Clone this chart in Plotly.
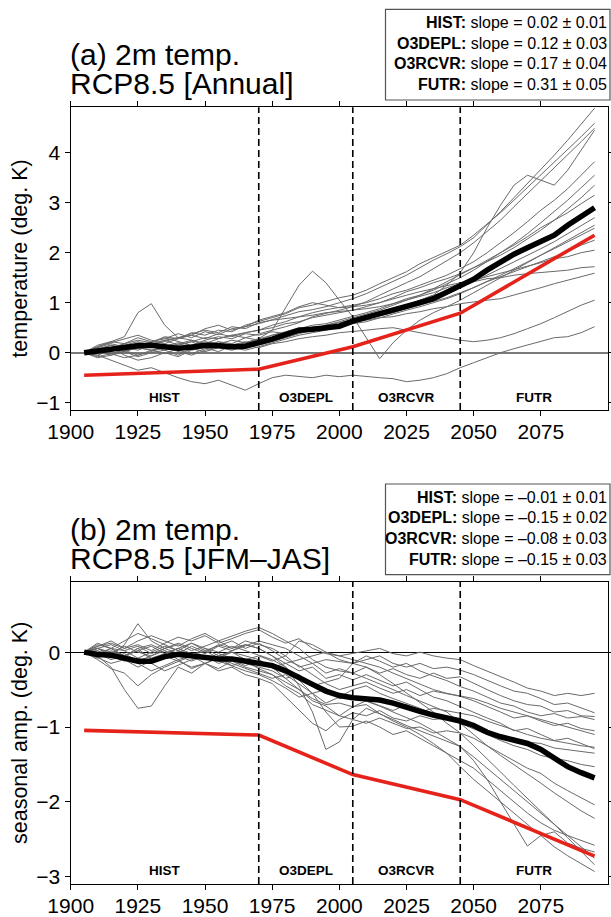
import plotly.graph_objects as go

# ---------------- data ----------------
YEARS = [1905, 1910, 1915, 1920, 1925, 1930, 1935, 1940, 1945, 1950, 1955, 1960, 1965,
         1970, 1975, 1980, 1985, 1990, 1995, 2000, 2005, 2010, 2015, 2020, 2025, 2030,
         2035, 2040, 2045, 2050, 2055, 2060, 2065, 2070, 2075, 2080, 2085, 2090, 2095]

ANNUAL_MEAN = [0.00, 0.04, 0.06, 0.10, 0.14, 0.15, 0.12, 0.09, 0.11, 0.15, 0.14, 0.12, 0.13,
               0.19, 0.27, 0.36, 0.45, 0.47, 0.49, 0.53, 0.63, 0.70, 0.78, 0.86, 0.93, 1.00,
               1.08, 1.20, 1.33, 1.47, 1.65, 1.82, 1.97, 2.10, 2.22, 2.35, 2.55, 2.72, 2.90]

SEASONAL_MEAN = [0.00, -0.03, -0.04, -0.08, -0.12, -0.12, -0.06, -0.03, -0.05, -0.08, -0.09, -0.09, -0.12,
                 -0.15, -0.18, -0.25, -0.33, -0.43, -0.52, -0.58, -0.61, -0.62, -0.64, -0.68, -0.74, -0.79,
                 -0.84, -0.88, -0.92, -0.98, -1.07, -1.13, -1.18, -1.22, -1.30, -1.41, -1.53, -1.61, -1.68]

TREND_YEARS = [1905, 1970, 2005, 2045, 2095]
ANNUAL_TREND = [-0.45, -0.33, 0.12, 0.79, 2.35]
SEASONAL_TREND = [-1.045, -1.107, -1.636, -1.97, -2.725]

ANNUAL_MEMBERS = [
    [0.00, 0.12, 0.22, 0.18, 0.30, 0.22, 0.28, 0.38, 0.30, 0.42, 0.36, 0.48, 0.52, 0.58,
     0.66, 0.74, 0.82, 0.86, 0.92, 1.00, 1.08, 1.18, 1.30, 1.42, 1.55, 1.70, 1.85, 1.98, 2.12,
     2.30, 2.55, 2.82, 3.10, 3.38, 3.66, 3.95, 4.25, 4.58, 4.89],
    [0.00, 0.05, 0.15, 0.10, 0.20, 0.12, 0.05, 0.15, 0.22, 0.10, 0.18, 0.25, 0.20, 0.28,
     0.35, 0.42, 0.50, 0.46, 0.55, 0.60, 0.66, 0.72, 0.80, 0.88, 0.95, 1.05, 1.15, 1.35, 1.60,
     2.00, 2.50, 2.95, 3.35, 3.55, 3.45, 3.35, 3.65, 4.05, 4.45],
    [0.00, 0.08, 0.05, 0.18, 0.25, 0.20, 0.32, 0.28, 0.40, 0.35, 0.45, 0.42, 0.55, 0.62,
     0.70, 0.78, 0.90, 0.95, 1.02, 1.10, 1.15, 1.25, 1.38, 1.50, 1.62, 1.78, 1.90, 2.02, 2.15,
     2.35, 2.58, 2.80, 3.05, 3.30, 3.55, 3.80, 4.05, 4.32, 4.59],
    [0.00, -0.05, 0.05, 0.12, 0.08, 0.18, 0.25, 0.15, 0.22, 0.30, 0.28, 0.35, 0.30, 0.38,
     0.45, 0.52, 0.60, 0.72, 0.78, 0.85, 0.92, 1.02, 1.15, 1.28, 1.40, 1.52, 1.68, 1.85, 2.00,
     2.20, 2.42, 2.65, 2.92, 3.18, 3.42, 3.70, 3.95, 4.22, 4.49],
    [0.00, 0.10, 0.18, 0.12, 0.05, 0.15, 0.22, 0.30, 0.25, 0.18, 0.28, 0.35, 0.40, 0.45,
     0.55, 0.62, 0.72, 0.80, 0.86, 0.90, 0.95, 1.00, 1.08, 1.18, 1.25, 1.35, 1.45, 1.55, 1.68,
     1.82, 2.00, 2.20, 2.40, 2.62, 2.85, 3.05, 3.28, 3.55, 3.82],
    [0.00, 0.05, -0.05, 0.02, 0.10, 0.05, 0.12, 0.20, 0.15, 0.10, 0.22, 0.18, 0.30, 0.25,
     0.35, 0.40, 0.48, 0.55, 0.58, 0.65, 0.72, 0.80, 0.88, 0.98, 1.08, 1.15, 1.25, 1.38, 1.50,
     1.65, 1.82, 2.00, 2.18, 2.38, 2.60, 2.82, 3.05, 3.30, 3.55],
    [0.00, 0.15, 0.22, 0.32, 0.80, 0.98, 0.55, 0.30, 0.35, 0.28, 0.38, 0.32, 0.40, 0.45,
     0.50, 0.58, 0.62, 0.70, 0.75, 0.80, 0.85, 0.92, 1.00, 1.10, 1.22, 1.30, 1.40, 1.48, 1.58,
     1.70, 1.85, 2.00, 2.15, 2.32, 2.50, 2.65, 2.80, 2.98, 3.15],
    [0.00, 0.08, 0.15, 0.05, 0.12, 0.20, 0.10, 0.18, 0.25, 0.15, 0.22, 0.12, 0.20, 0.28,
     0.45, 0.90, 1.35, 1.63, 1.40, 1.05, 0.72, 0.30, -0.12, 0.20, 0.45, 0.65, 0.80, 0.92, 1.05,
     1.20, 1.35, 1.50, 1.65, 1.80, 1.95, 2.10, 2.25, 2.40, 2.55],
    [0.00, -0.08, -0.02, 0.05, -0.05, 0.02, 0.10, 0.05, -0.02, 0.08, 0.15, 0.10, 0.05, 0.12,
     0.20, 0.28, 0.35, 0.40, 0.45, 0.52, 0.58, 0.62, 0.70, 0.78, 0.85, 0.92, 1.00, 1.08, 1.18,
     1.30, 1.42, 1.55, 1.68, 1.82, 1.95, 2.08, 2.22, 2.35, 2.49],
    [0.00, 0.05, 0.10, -0.05, -0.15, -0.10, 0.00, -0.08, 0.05, 0.10, 0.02, 0.15, 0.22, 0.15,
     0.22, 0.30, 0.38, 0.45, 0.50, 0.55, 0.62, 0.68, 0.75, 0.80, 0.88, 0.95, 1.02, 1.10, 1.20,
     1.30, 1.42, 1.52, 1.62, 1.72, 1.82, 1.92, 2.02, 2.15, 2.25],
    [0.00, 0.10, 0.05, 0.15, 0.22, 0.15, 0.25, 0.30, 0.38, 0.45, 0.40, 0.52, 0.48, 0.60,
     0.65, 0.68, 0.72, 0.75, 0.80, 0.82, 0.85, 0.88, 0.92, 0.98, 1.05, 1.12, 1.20, 1.30, 1.38,
     1.42, 1.48, 1.50, 1.55, 1.58, 1.60, 1.62, 1.65, 1.70, 1.72],
    [0.00, -0.10, -0.05, 0.02, 0.10, 0.05, -0.02, 0.08, 0.15, 0.22, 0.18, 0.10, 0.20, 0.25,
     0.30, 0.35, 0.42, 0.48, 0.52, 0.56, 0.60, 0.65, 0.70, 0.72, 0.78, 0.82, 0.88, 0.92, 0.98,
     1.02, 1.05, 1.08, 1.15, 1.22, 1.30, 1.38, 1.45, 1.52, 1.59],
    [0.00, 0.05, -0.02, -0.10, -0.05, 0.05, 0.10, 0.02, -0.05, 0.05, 0.12, 0.08, 0.15, 0.10,
     0.18, 0.22, 0.28, 0.32, 0.35, 0.40, 0.42, 0.45, 0.48, 0.50, 0.45, 0.40, 0.35, 0.30, 0.25,
     0.22, 0.25, 0.30, 0.38, 0.48, 0.58, 0.70, 0.82, 0.95, 1.05],
    [0.00, -0.05, -0.15, -0.25, -0.35, -0.30, -0.40, -0.50, -0.58, -0.62, -0.55, -0.65, -0.75, -0.62,
     -0.50, -0.45, -0.48, -0.50, -0.45, -0.48, -0.45, -0.48, -0.50, -0.52, -0.58, -0.55, -0.50, -0.42, -0.30,
     -0.20, -0.10, 0.00, 0.08, 0.15, 0.22, 0.30, 0.32, 0.40, 0.52],
    [0.00, 0.12, 0.20, 0.28, 0.35, 0.25, 0.18, 0.28, 0.35, 0.48, 0.55, 0.45, 0.52, 0.65,
     0.72, 0.80, 0.92, 1.00, 0.95, 0.90, 0.92, 0.95, 1.00, 1.08, 1.15, 1.22, 1.28, 1.35, 1.40,
     1.45, 1.52, 1.58, 1.65, 1.72, 1.80, 1.88, 1.92, 2.00, 2.05],
    [0.00, 0.02, 0.10, 0.18, 0.12, 0.22, 0.30, 0.22, 0.15, 0.25, 0.32, 0.28, 0.38, 0.35,
     0.42, 0.38, 0.45, 0.52, 0.48, 0.55, 0.60, 0.68, 0.75, 0.85, 0.95, 1.05, 1.15, 1.22, 1.30,
     1.42, 1.55, 1.68, 1.82, 1.95, 2.08, 2.22, 2.38, 2.55, 2.70],
    [0.00, -0.02, 0.08, 0.02, -0.08, 0.00, 0.05, -0.05, 0.08, 0.02, 0.10, 0.05, 0.12, 0.20,
     0.25, 0.32, 0.40, 0.45, 0.55, 0.62, 0.70, 0.78, 0.85, 0.95, 1.05, 1.15, 1.28, 1.42, 1.55,
     1.70, 1.82, 1.95, 2.10, 2.28, 2.45, 2.65, 2.88, 3.10, 3.35],
]

SEASONAL_MEMBERS = [
    [0.00, 0.08, 0.15, 0.05, 0.10, 0.02, 0.12, 0.20, 0.15, 0.22, 0.12, 0.18, 0.25, 0.30,
     0.20, 0.12, 0.18, 0.05, -0.02, -0.05, -0.02, 0.02, 0.05, -0.02, -0.05, 0.00, -0.05, -0.08, -0.10,
     -0.18, -0.25, -0.32, -0.40, -0.48, -0.52, -0.58, -0.55, -0.58, -0.55],
    [0.00, 0.05, -0.05, 0.10, 0.38, 0.15, 0.05, -0.02, 0.08, 0.00, 0.10, 0.05, 0.15, 0.10,
     0.05, -0.05, 0.15, 0.10, 0.00, -0.10, -0.15, -0.10, -0.05, -0.15, -0.20, -0.15, -0.22, -0.20, -0.24,
     -0.30, -0.38, -0.45, -0.52, -0.55, -0.62, -0.70, -0.68, -0.75, -0.81],
    [0.00, -0.08, 0.02, -0.05, 0.05, -0.10, -0.02, 0.05, -0.05, 0.02, -0.08, 0.00, -0.10, -0.05,
     -0.12, -0.05, -0.20, -0.15, -0.28, -0.22, -0.28, -0.20, -0.28, -0.22, -0.30, -0.35, -0.28, -0.35, -0.33,
     -0.42, -0.50, -0.58, -0.65, -0.70, -0.72, -0.80, -0.78, -0.85, -0.86],
    [0.00, -0.10, -0.22, -0.28, -0.45, -0.30, -0.20, -0.12, -0.05, -0.10, -0.02, -0.08, -0.15, -0.20,
     -0.25, -0.35, -0.30, -0.45, -0.40, -0.35, -0.15, -0.05, -0.12, -0.20, -0.15, -0.25, -0.32, -0.38, -0.46,
     -0.52, -0.60, -0.68, -0.72, -0.80, -0.85, -0.82, -0.88, -0.86, -0.90],
    [0.00, 0.10, 0.05, -0.05, 0.02, 0.08, -0.02, 0.05, 0.12, 0.02, 0.08, 0.15, 0.05, 0.12,
     0.02, -0.10, -0.18, -0.30, -0.42, -0.50, -0.45, -0.40, -0.48, -0.55, -0.50, -0.58, -0.52, -0.55, -0.59,
     -0.65, -0.72, -0.80, -0.88, -0.85, -0.92, -0.98, -0.95, -1.02, -1.05],
    [0.00, -0.05, -0.20, -0.50, -0.75, -0.72, -0.45, -0.20, -0.28, -0.15, -0.22, -0.12, -0.20, -0.25,
     -0.30, -0.40, -0.50, -0.62, -0.70, -0.68, -0.73, -0.65, -0.72, -0.78, -0.70, -0.80, -0.75, -0.78, -0.81,
     -0.85, -0.92, -0.98, -1.05, -1.10, -1.15, -1.18, -1.22, -1.25, -1.27],
    [0.00, 0.05, -0.02, 0.08, 0.00, -0.05, 0.05, 0.12, 0.05, -0.02, 0.08, 0.02, 0.10, 0.05,
     -0.05, -0.15, -0.25, -0.20, -0.35, -0.30, -0.37, -0.30, -0.38, -0.45, -0.40, -0.50, -0.60, -0.65, -0.73,
     -0.80, -0.88, -0.95, -1.05, -1.02, -1.10, -1.18, -1.15, -1.22, -1.29],
    [0.00, -0.02, -0.10, -0.05, -0.15, -0.25, -0.18, -0.10, -0.22, -0.15, -0.25, -0.20, -0.30, -0.35,
     -0.42, -0.60, -0.78, -0.95, -1.05, -0.90, -0.81, -0.85, -0.78, -0.88, -0.92, -0.85, -0.90, -0.88, -0.95,
     -1.02, -1.10, -1.18, -1.25, -1.30, -1.38, -1.42, -1.45, -1.50, -1.53],
    [0.00, 0.02, -0.08, -0.02, -0.12, -0.05, 0.02, -0.10, -0.05, -0.15, -0.08, -0.18, -0.12, -0.22,
     -0.30, -0.45, -0.55, -0.70, -0.78, -0.85, -0.90, -0.95, -0.88, -0.95, -1.02, -1.00, -1.08, -1.05, -1.08,
     -1.15, -1.25, -1.35, -1.45, -1.55, -1.62, -1.75, -1.85, -1.95, -2.04],
    [0.00, 0.08, 0.12, 0.05, 0.15, 0.22, 0.15, 0.08, 0.18, 0.25, 0.15, 0.22, 0.28, 0.33,
     0.25, 0.15, 0.05, -0.10, -0.20, -0.25, -0.28, -0.35, -0.42, -0.50, -0.58, -0.65, -0.72, -0.80, -0.95,
     -1.10, -1.25, -1.38, -1.50, -1.62, -1.75, -1.88, -2.00, -2.12, -2.22],
    [0.00, -0.05, 0.05, 0.02, -0.08, 0.00, 0.08, 0.02, -0.05, 0.05, 0.00, 0.08, 0.02, -0.05,
     -0.10, -0.20, -0.38, -0.55, -0.80, -1.00, -0.99, -0.92, -1.00, -1.10, -1.05, -1.15, -1.25, -1.35, -1.44,
     -1.55, -1.70, -1.85, -2.00, -2.15, -2.28, -2.38, -2.45, -2.52, -2.58],
    [0.00, 0.05, 0.10, 0.02, 0.08, -0.02, 0.05, 0.10, 0.02, 0.08, 0.15, 0.05, 0.10, 0.05,
     -0.05, -0.20, -0.45, -0.80, -1.30, -1.20, -0.90, -0.75, -0.82, -0.90, -0.98, -1.05, -1.12, -1.20, -1.26,
     -1.45, -1.70, -2.00, -2.30, -2.59, -2.45, -2.40, -2.55, -2.62, -2.67],
    [0.00, -0.08, -0.15, -0.10, -0.20, -0.12, -0.05, -0.12, -0.20, -0.15, -0.08, -0.15, -0.22, -0.28,
     -0.35, -0.30, -0.42, -0.55, -0.50, -0.62, -0.59, -0.65, -0.72, -0.80, -0.88, -0.95, -1.05, -1.15, -1.26,
     -1.40, -1.55, -1.70, -1.85, -2.00, -2.15, -2.30, -2.45, -2.60, -2.75],
    [0.00, 0.12, 0.05, 0.15, 0.25, 0.18, 0.10, 0.02, 0.12, 0.05, -0.05, 0.02, 0.08, 0.15,
     0.10, 0.05, -0.05, -0.15, -0.10, -0.12, -0.15, -0.20, -0.30, -0.42, -0.55, -0.68, -0.80, -0.95, -1.08,
     -1.25, -1.42, -1.60, -1.78, -1.95, -2.12, -2.30, -2.48, -2.66, -2.84],
    [0.00, -0.02, 0.05, -0.05, 0.02, -0.08, -0.02, 0.05, -0.02, -0.10, -0.05, 0.00, -0.05, -0.10,
     -0.20, -0.35, -0.50, -0.65, -0.72, -0.85, -0.73, -0.70, -0.82, -0.92, -1.00, -1.10, -1.22, -1.35, -1.53,
     -1.70, -1.85, -2.00, -2.15, -2.30, -2.45, -2.60, -2.72, -2.82, -2.93],
    [0.00, 0.02, -0.05, -0.12, -0.08, -0.15, -0.25, -0.18, -0.10, -0.05, -0.12, -0.18, -0.25, -0.30,
     -0.38, -0.48, -0.60, -0.55, -0.68, -0.60, -0.50, -0.45, -0.55, -0.62, -0.68, -0.75, -0.82, -0.90, -0.95,
     -1.00, -1.05, -1.12, -1.15, -1.20, -1.22, -1.28, -1.30, -1.32, -1.35],
    [0.00, 0.05, 0.00, -0.05, 0.05, 0.10, 0.02, -0.05, -0.12, -0.05, -0.15, -0.10, -0.18, -0.12,
     -0.20, -0.15, -0.10, -0.05, 0.00, -0.05, -0.10, -0.15, -0.20, -0.28, -0.35, -0.42, -0.50, -0.55, -0.59,
     -0.62, -0.68, -0.75, -0.80, -0.85, -0.90, -0.95, -1.00, -1.05, -1.10],
]

PERIOD_BOUNDS = [1970, 2005, 2045]
PERIOD_NAMES = ["HIST", "O3DEPL", "O3RCVR", "FUTR"]
PERIOD_CENTERS = [1935, 1987.5, 2025, 2072.5]
ANNUAL_SLOPES = ["0.02 ± 0.01", "0.12 ± 0.03", "0.17 ± 0.04", "0.31 ± 0.05"]
SEASONAL_SLOPES = ["–0.01 ± 0.01", "–0.15 ± 0.02", "–0.08 ± 0.03", "–0.15 ± 0.03"]
X_TICKS = [1900, 1925, 1950, 1975, 2000, 2025, 2050, 2075]
ANNUAL_Y_TICKS = [-1, 0, 1, 2, 3, 4]
SEASONAL_Y_TICKS = [-3, -2, -1, 0]
TITLES_A = ["(a) 2m temp.", "RCP8.5 [Annual]"]
TITLES_B = ["(b) 2m temp.", "RCP8.5 [JFM–JAS]"]
YTITLE_A = "temperature (deg. K)"
YTITLE_B = "seasonal amp. (deg. K)"

# ---------------- layout helpers ----------------
W, H = 611, 917
FONT = "Liberation Sans, Arial, Helvetica, sans-serif"


def px(x):
    return x / W


def py(y):
    return 1 - y / H


X_DOM = [px(70.7), px(608)]
PANELS = [
    dict(top=107.3, bottom=410, yr=[-1.146, 4.908], yticks=ANNUAL_Y_TICKS,
         members=ANNUAL_MEMBERS, mean=ANNUAL_MEAN, trend=ANNUAL_TREND,
         slopes=ANNUAL_SLOPES, titles=TITLES_A, ytitle=YTITLE_A,
         zc="#7a7a7a", zw=2, off=0),
    dict(top=582, bottom=884, yr=[-3.097, 0.937], yticks=SEASONAL_Y_TICKS,
         members=SEASONAL_MEMBERS, mean=SEASONAL_MEAN, trend=SEASONAL_TREND,
         slopes=SEASONAL_SLOPES, titles=TITLES_B, ytitle=YTITLE_B,
         zc="black", zw=1, off=474.7),
]

fig = go.Figure()
shapes, annotations = [], []
layout = dict(width=W, height=H, margin=dict(l=0, r=0, t=0, b=0, pad=0, autoexpand=False),
              paper_bgcolor="white", plot_bgcolor="white", showlegend=False,
              font=dict(family=FONT, color="black"))

for i, p in enumerate(PANELS):
    n = "" if i == 0 else str(i + 1)
    xa, ya = "x" + n, "y" + n
    axis_common = dict(showline=True, linecolor="black", linewidth=1.2, mirror="allticks",
                       ticks="outside", ticklen=5, tickwidth=1, tickcolor="black",
                       showgrid=False, automargin=False,
                       tickfont=dict(size=21, family=FONT, color="black"))
    layout["xaxis" + n] = dict(axis_common, domain=X_DOM, range=[1900, 2100],
                               tickvals=X_TICKS, ticktext=[str(t) for t in X_TICKS],
                               anchor=ya, zeroline=False, ticklabelstandoff=-2)
    layout["yaxis" + n] = dict(axis_common, domain=[py(p["bottom"]), py(p["top"])],
                               range=p["yr"], tickvals=p["yticks"], anchor=xa,
                               zeroline=True, zerolinecolor=p["zc"], zerolinewidth=p["zw"])

    for m in p["members"]:
        fig.add_trace(go.Scatter(x=YEARS, y=m, mode="lines", xaxis=xa, yaxis=ya,
                                 line=dict(color="#6a6a6a", width=1), hoverinfo="skip"))
    fig.add_trace(go.Scatter(x=YEARS, y=p["mean"], mode="lines", xaxis=xa, yaxis=ya,
                             line=dict(color="black", width=5.5), hoverinfo="skip"))
    fig.add_trace(go.Scatter(x=TREND_YEARS, y=p["trend"], mode="lines", xaxis=xa, yaxis=ya,
                             line=dict(color="#e5231b", width=3.6), hoverinfo="skip"))

    for b in PERIOD_BOUNDS:
        shapes.append(dict(type="line", xref=xa, yref=ya + " domain", x0=b, x1=b, y0=0, y1=1,
                           line=dict(color="black", width=1.6, dash="7px,4px"), layer="above"))
    label_y = 0.041 if i == 0 else 0.046
    for name, c in zip(PERIOD_NAMES, PERIOD_CENTERS):
        annotations.append(dict(xref=xa, yref=ya + " domain", x=c, y=label_y, text="<b>%s</b>" % name,
                                showarrow=False, xanchor="center", yanchor="middle",
                                font=dict(size=13.5, family=FONT, color="black")))

    off = p["off"]
    # slope box
    shapes.append(dict(type="rect", xref="paper", yref="paper", x0=px(385.5), x1=px(610),
                       y0=py(100 + off), y1=py(9.3 + off), line=dict(color="#555555", width=1.2),
                       fillcolor="white", layer="above"))
    for k, (name, s) in enumerate(zip(PERIOD_NAMES, p["slopes"])):
        annotations.append(dict(xref="paper", yref="paper", x=px(608.5), y=py(22.6 + 20.6 * k + off),
                                text="<b>%s:</b> slope = %s" % (name, s), showarrow=False,
                                xanchor="right", yanchor="middle",
                                font=dict(size=16, family=FONT, color="black")))
    # titles
    annotations.append(dict(xref="paper", yref="paper", x=px(68), y=py(54.5 + off),
                            text=p["titles"][0], showarrow=False, xanchor="left", yanchor="middle",
                            font=dict(size=30, family=FONT, color="black")))
    annotations.append(dict(xref="paper", yref="paper", x=px(68), y=py(83.5 + off),
                            text=p["titles"][1], showarrow=False, xanchor="left", yanchor="middle",
                            font=dict(size=30, family=FONT, color="black")))
    # y title
    annotations.append(dict(xref="paper", yref="paper", x=px(20), y=py((p["top"] + p["bottom"]) / 2),
                            text=p["ytitle"], showarrow=False, textangle=-90,
                            xanchor="center", yanchor="middle",
                            font=dict(size=21.5, family=FONT, color="black")))

layout["shapes"] = shapes
layout["annotations"] = annotations
fig.update_layout(**layout)
fig.write_html("out.html", config={"displayModeBar": False, "staticPlot": True},
               post_script="document.body.style.margin='0px';document.body.style.overflow='hidden';")
